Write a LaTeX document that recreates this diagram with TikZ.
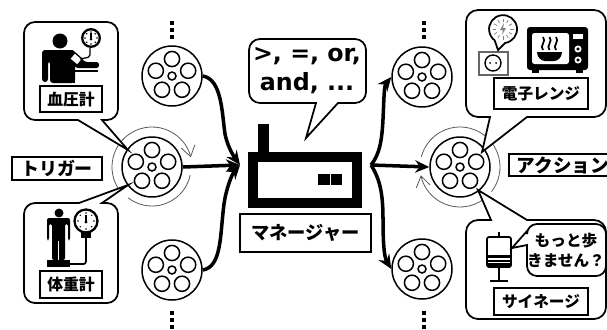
\documentclass[tikz,border=0pt]{standalone}
\usepackage{fontspec}
\setmainfont{DejaVu Sans}
\newfontfamily\cjk{Noto Sans CJK JP}
\usetikzlibrary{arrows.meta}

\tikzset{
    reel/.style={draw, circle, line width=0.85pt, minimum size=1.2cm, inner sep=0pt},
    labelbox/.style 2 args={draw, fill=white, line width=1pt, inner sep=0pt, font=\cjk\bfseries,
        minimum width=#1*0.02cm, minimum height=#2*0.02cm},
    bubble/.style={draw, fill=white, line width=1pt},
    flow/.style={-{Stealth[length=8pt,width=7pt]}, line width=2pt},
    spin/.style={draw=black!65, line width=0.45pt},
    pics/holes/.style={code={
        \draw[line width=0.85pt] (0,0) circle[radius=4];
        \foreach \a in {90,162,234,306,18}
            \draw[line width=0.85pt] (\a:17) circle[radius=7.6];
    }}
}

\begin{document}
\begin{tikzpicture}[x=0.02cm, y=0.02cm]
\useasboundingbox (0,0) rectangle (607,329);

% Film reels
\node[reel] (reelTopL) at (172,253) {};
\node[reel] (reelTrigger) at (152,162) {};
\node[reel] (reelBotL) at (172,59) {};
\node[reel] (reelTopR) at (422,252) {};
\node[reel] (reelAction) at (460,162) {};
\node[reel] (reelBotR) at (422,60) {};
\foreach \r in {reelTopL,reelTrigger,reelBotL,reelTopR,reelAction,reelBotR}
    \pic at (\r) {holes};

% Rotation marks
\draw[spin, -{Straight Barb[length=6pt,width=8pt]}] (reelTrigger) ++(213:40) arc[start angle=213, end angle=14, radius=40];
\draw[spin] (reelTrigger) ++(-12:39) arc[start angle=-12, end angle=-128, radius=39];
\draw[spin] (reelAction) ++(165:40) arc[start angle=165, end angle=-38, radius=40];
\draw[spin, -{Straight Barb[length=6pt,width=8pt]}] (reelAction) ++(-55:40) arc[start angle=-55, end angle=-168, radius=40];

% Dots above and below the reels
\foreach \x in {172,424} {
    \foreach \y in {306,299,292,16,9,2}
        \fill (\x-1.8,\y-1.8) rectangle (\x+1.8,\y+1.8);
}

% Manager
\node[draw, line width=0.2cm, minimum width=2.08cm, minimum height=0.92cm, inner sep=0pt] (manager) at (305,149) {};
\fill (258,177) rectangle (269,205);
\fill (318,144) rectangle (330,155);
\fill (331,144) rectangle (342,155);
\node[labelbox={131}{38}, font=\cjk\bfseries\fontsize{10.4}{12}\selectfont] (managerLabel) at (305.5,96) {マネージャー};
\coordinate (managerIn) at (240,164);
\coordinate (managerOut) at (371,164);

% Connectors
\draw[flow] (reelTopL.east) .. controls (222,250) and (222,215) .. (225,195) .. controls (227,185) and (232,175) .. (managerIn);
\draw[flow] (reelTrigger.east) -- (managerIn);
\draw[flow] (reelBotL.east) .. controls (222,62) and (220,95) .. (224,125) .. controls (226,140) and (232,155) .. (managerIn);
\draw[flow] (managerOut) .. controls (380,175) and (382,190) .. (383,210) .. controls (384,230) and (384,243) .. (reelTopR.west);
\draw[flow] (managerOut) -- (reelAction.west);
\draw[flow] (managerOut) .. controls (380,150) and (383,135) .. (383,110) .. controls (383,88) and (384,72) .. (reelBotR.west);

% Manager speech bubble
\draw[bubble] (249,258) [rounded corners=0.22cm] -- (249,226) [sharp corners] -- (316,226) -- (306,191) -- (338,226) [rounded corners=0.22cm] -- (366,226) -- (366,290) -- (249,290) -- cycle;
\node[font=\bfseries\fontsize{13.5}{16.5}\selectfont, align=center] (conditions) at (307,258) {>, =, or,\\and, ...};

% Trigger side
\node[labelbox={90}{23}, font=\cjk\bfseries\fontsize{10.2}{12}\selectfont] (trigger) at (57,160.5) {トリガー};
\draw[bubble] (24,260) [rounded corners=0.22cm] -- (24,209) [sharp corners] -- (78,209) -- (128,179) -- (102,209) [rounded corners=0.22cm] -- (118,209) -- (118,307) -- (24,307) -- cycle;
\draw[bubble] (24,70) [rounded corners=0.22cm] -- (24,126) [sharp corners] -- (79,126) -- (128,144) -- (102,126) [rounded corners=0.22cm] -- (118,126) -- (118,26) -- (24,26) -- cycle;
\node[labelbox={62}{26}, font=\cjk\bfseries\fontsize{9}{11}\selectfont] (bloodLabel) at (71,230) {血圧計};
\node[labelbox={62}{27}, font=\cjk\bfseries\fontsize{9}{11}\selectfont] (weightLabel) at (71,44.5) {体重計};

% Person with blood pressure monitor
\fill (60,288) circle[radius=7.5];
\fill[rounded corners=0.06cm] (42,247) -- (42,279) -- (75,279) -- (75,246) -- (50,246) -- (50,268) -- (48,268) -- (48,247) -- cycle;
\fill[rounded corners=0.05cm] (74,278) -- (85,267) -- (99,267) -- (99,261) -- (76,261) -- (70,268) -- cycle;
\draw[line width=0.7pt, fill=white, rotate around={-40:(76,270)}] (71,266) rectangle (81,274);
\draw[line width=0.9pt] (74,246) -- (74,258) -- (98,258);
\draw[line width=0.7pt, rounded corners=0.04cm] (90,281) -- (90,272) -- (80,270);
\draw[line width=1.3pt, fill=white] (91,291) circle[radius=8.8];
\foreach \a in {0,45,...,315}
    \fill (91,291) ++(\a:6) circle[radius=0.8];
\draw[line width=0.8pt] (91,291) -- (91,296);
\fill (91,290) circle[radius=1.5];

% Person on the scale
\fill (59,116) circle[radius=4.5];
\fill[rounded corners=0.04cm] (47,89) -- (47,111) -- (70,111) -- (70,89) -- (68,89) -- (68,105) -- (65,105) -- (65,69) -- (52,69) -- (52,105) -- (49,105) -- (49,89) -- cycle;
\draw[white, line width=0.7pt] (58.5,69) -- (58.5,88);
\fill (47,62) rectangle (70,69);
\draw[line width=1pt, rounded corners=0.05cm] (86,91) -- (86,65) -- (70,65);
\fill (81,91) rectangle (91,98);
\draw[line width=1.3pt, fill=white] (86,108) circle[radius=11.5];
\foreach \a in {0,45,...,315}
    \fill (86,108) ++(\a:8) circle[radius=0.8];
\draw[line width=0.8pt] (86,108) -- (86,114);
\fill (86,107) circle[radius=1.6];

% Action side
\node[labelbox={104}{22}, font=\cjk\bfseries\fontsize{10.6}{12}\selectfont, anchor=west, text width=2.08cm-3pt, align=left] (action) at (508,164) {\hspace{3pt}アクション};
\draw[bubble] (466,260) [rounded corners=0.24cm] -- (466,212) [sharp corners] -- (490,212) -- (482,177) -- (527,212) [rounded corners=0.24cm] -- (606,212) -- (606,319) -- (466,319) -- cycle;
\draw[bubble] (466,60) [rounded corners=0.24cm] -- (466,109) [sharp corners] -- (491,109) -- (478,139) -- (527,109) [rounded corners=0.24cm] -- (606,109) -- (606,10) -- (466,10) -- cycle;
\node[labelbox={94}{31}, font=\cjk\bfseries\fontsize{8.9}{11}\selectfont] (ovenLabel) at (541,235.5) {電子レンジ};
\node[labelbox={94}{27}, font=\cjk\bfseries\fontsize{8.9}{11}\selectfont] (signLabel) at (541,27.5) {サイネージ};

% Outlet with spark
\draw[line width=0.7pt, draw=black!60] (479,254) rectangle (508,277);
\draw[line width=0.8pt] (493,266) circle[radius=8];
\fill (490,266) circle[radius=1];
\fill (496,266) circle[radius=1];
\draw[line width=1pt] (498,279) -- (505,286) arc[start angle=-82, end angle=233, radius=14] -- cycle;
\foreach \a in {0,30,...,330}
    \draw[black!50, line width=0.4pt] (503,300) ++(\a:7) -- ++(\a:3.5);
\fill[black!50] (504,306) -- (500,299) -- (503,299) -- (502,294) -- (506,301) -- (503,301) -- cycle;

% Microwave oven
\fill[rounded corners=0.06cm] (527,259) rectangle (588,302);
\fill (532,256) rectangle (539,260);
\fill (576,256) rectangle (583,260);
\fill[white, rounded corners=0.05cm] (532,265) rectangle (569,296);
\fill[white] (573,290) rectangle (583,295);
\draw[white, line width=1pt] (578,280) circle[radius=2.6];
\draw[white, line width=1pt] (578,269) circle[radius=2.6];
\fill (537,277) -- (562,277) .. controls (562,271) and (557,268) .. (554,268) -- (545,268) .. controls (542,268) and (537,271) .. cycle;
\foreach \x in {543,549.5,556}
    \draw[line width=1pt] (\x,279) .. controls (\x-4,283) and (\x+4,288) .. (\x,292);

% Signage
\draw[line width=1pt, rounded corners=0.04cm] (487,62) rectangle (511,92);
\fill[rounded corners=0.03cm] (487,62) rectangle (511,74);
\draw[white, line width=0.6pt] (488,70) -- (510,70);
\draw[white, line width=0.6pt] (488,66.5) -- (510,66.5);
\draw[line width=1.1pt] (499,92) -- (499,97);
\draw[line width=1.4pt] (499,62) -- (499,48);
\draw[line width=1.5pt] (490,48) -- (508,48);
\draw[bubble] (527,70) [rounded corners=0.2cm] -- (527,53) -- (606,53) -- (606,105) -- (527,105) [sharp corners] -- (527,98) -- (512,81) -- (527,84) -- cycle;
\node[font=\cjk\bfseries\fontsize{8.9}{11.4}\selectfont, align=center] (signSpeech) at (566,79) {もっと歩\\きません？};

\end{tikzpicture}
\end{document}
